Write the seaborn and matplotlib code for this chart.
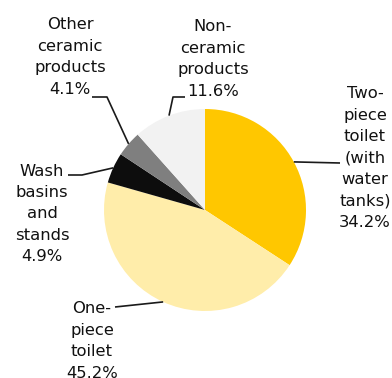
import numpy as np
import matplotlib
matplotlib.use("Agg")
import matplotlib.pyplot as plt
import seaborn as sns

categories = ["Two-\npiece\ntoilet\n(with\nwater\ntanks)", "One-\npiece\ntoilet", "Wash\nbasins\nand\nstands",
              "Other\nceramic\nproducts", "Non-\nceramic\nproducts"]
values = [34.2, 45.2, 4.9, 4.1, 11.6]
colors = ["#FFC700", "#FFEDAA", "#0D0D0D", "#7F7F7F", "#F2F2F2"]

sns.set_theme(style="white")
plt.rcParams['font.family'] = ['DejaVu Sans']

W, H = 392, 378
fig = plt.figure(figsize=(W / 100, H / 100), dpi=100)
ax = fig.add_axes([0, 0, 1, 1])

cx, cy, r = 205, H - 210, 101
wedges, _ = ax.pie(values, colors=colors, startangle=90, counterclock=False,
                   center=(cx, cy), radius=r, frame=True,
                   wedgeprops=dict(linewidth=0))
ax.set_xlim(0, W)
ax.set_ylim(0, H)
ax.set_aspect('equal')
ax.axis('off')

# label layout (pixel coords from top-left): text center, leader elbow/end points
layout = [
    dict(text=(365, 158), path=[(340, 163)]),
    dict(text=(92, 341), path=[(115, 307)]),
    dict(text=(42, 214), path=[(82, 175), (68, 175)]),
    dict(text=(70, 57), path=[(107, 97), (92, 97)]),
    dict(text=(213, 59), path=[(173, 97), (185, 97)]),
]

for w, lab, v, lay in zip(wedges, categories, values, layout):
    ang = np.deg2rad((w.theta1 + w.theta2) / 2)
    ex, ey = cx + r * np.cos(ang), cy + r * np.sin(ang)
    xs = [ex] + [p[0] for p in lay["path"]]
    ys = [ey] + [H - p[1] for p in lay["path"]]
    ax.plot(xs, ys, color="#1a1a1a", lw=1.2, solid_capstyle='butt')
    tx, ty = lay["text"]
    ax.text(tx, H - ty, f"{lab}\n{v:.1f}%", ha='center', va='center', multialignment='center',
            fontsize=11.8, color="#111111", linespacing=1.54)

fig.savefig("out.png", dpi=100)
